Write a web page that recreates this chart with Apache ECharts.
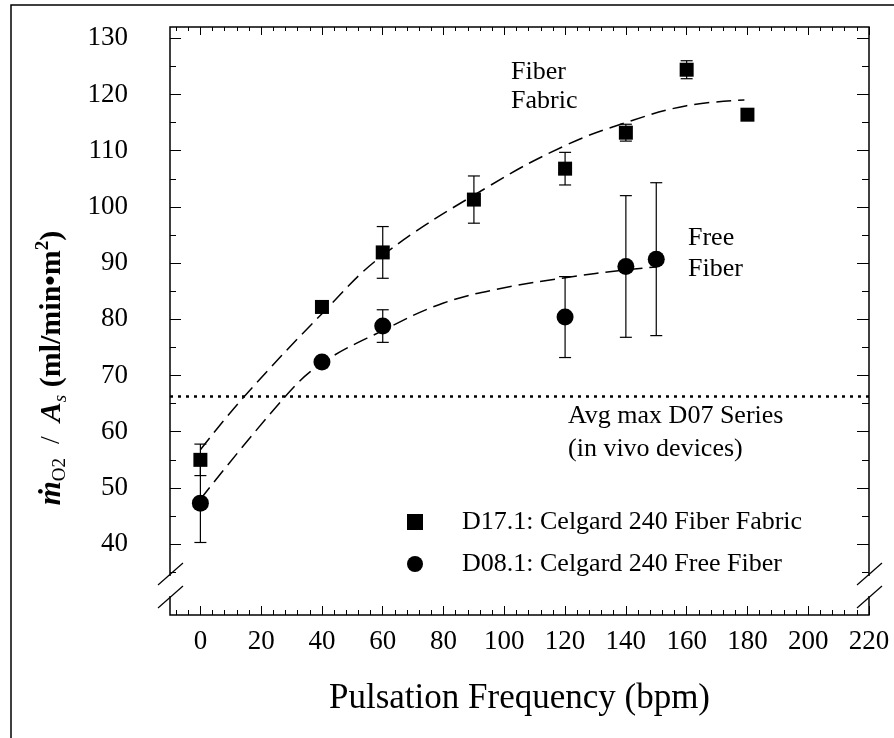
<!DOCTYPE html>
<html>
<head>
<meta charset="utf-8">
<title>Pulsation frequency vs O2 transfer</title>
<script src="https://cdn.jsdelivr.net/npm/echarts@6.0.0/dist/echarts.min.js"></script>
<style>
  html, body { margin: 0; padding: 0; background: #fff; }
  #chart { width: 894px; height: 738px; }
</style>
</head>
<body>
<div id="chart"></div>
<script>
// D17.1 fiber fabric (squares)
const freqFabric = [0, 40, 60, 90, 120, 140, 160, 180];
const o2Fabric = [55.0, 82.2, 91.9, 101.3, 106.8, 113.2, 124.4, 116.4];
const errFabric = [2.8, 1.0, 4.6, 4.2, 2.9, 1.5, 1.6, 1.0];

// D08.1 free fiber (circles)
const freqFree = [0, 40, 60, 120, 140, 150];
const o2Free = [47.3, 72.4, 78.8, 80.4, 89.4, 90.7];
const errFree = [7.0, 1.0, 2.9, 7.2, 12.6, 13.6];

// dashed trend curves
const fitFabricX = [0, 14, 40, 60, 95, 120, 140, 160, 179];
const fitFabricY = [56.8, 66.0, 81.0, 91.4, 103.7, 110.9, 115.0, 118.0, 119.0];
const fitFreeX = [0, 28, 40, 60, 80, 100, 120, 140, 150];
const fitFreeY = [48.0, 66.3, 72.2, 78.0, 82.9, 85.6, 87.4, 88.8, 89.3];

// average max of the D07 series (dotted line)
const avgMaxD07 = 66.3;

// tick values
const xMajor = [0, 20, 40, 60, 80, 100, 120, 140, 160, 180, 200, 220];
const xMinor = [-8, -4, 4, 8, 12, 16, 24, 28, 32, 36, 44, 48, 52, 56, 64, 68, 72, 76, 84, 88, 92, 96,
  104, 108, 112, 116, 124, 128, 132, 136, 144, 148, 152, 156, 164, 168, 172, 176, 184, 188, 192, 196,
  204, 208, 212, 216];
const yMajor = [40, 50, 60, 70, 80, 90, 100, 110, 120, 130];
const yMinor = [35, 45, 55, 65, 75, 85, 95, 105, 115, 125];

const nameFabric = 'D17.1: Celgard 240 Fiber Fabric';
const nameFree = 'D08.1: Celgard 240 Free Fiber';

const FONT = 'Liberation Serif, DejaVu Serif, serif';
const INK = '#000';

const zip = (xs, ys) => xs.map((x, i) => [x, ys[i]]);
const errRows = (xs, ys, es) => xs.map((x, i) => [x, ys[i] - es[i], ys[i] + es[i]]);

function errorBar(params, api) {
  const x = api.value(0);
  const lo = api.coord([x, api.value(1)]);
  const hi = api.coord([x, api.value(2)]);
  const w = 6;
  const st = { stroke: INK, lineWidth: 1.2 };
  return {
    type: 'group',
    children: [
      { type: 'line', shape: { x1: lo[0], y1: lo[1], x2: hi[0], y2: hi[1] }, style: st },
      { type: 'line', shape: { x1: lo[0] - w, y1: lo[1], x2: lo[0] + w, y2: lo[1] }, style: st },
      { type: 'line', shape: { x1: hi[0] - w, y1: hi[1], x2: hi[0] + w, y2: hi[1] }, style: st }
    ]
  };
}

function xAxisOf(pos, ticks, len, labels) {
  return {
    type: 'value', position: pos, min: -10, max: 220,
    axisLine: { show: false, onZero: false },
    axisTick: { inside: true, length: len, customValues: ticks, lineStyle: { color: INK, width: 1 } },
    axisLabel: labels
      ? { customValues: ticks, fontSize: 27, margin: 13, color: INK, fontFamily: FONT }
      : { show: false },
    splitLine: { show: false }
  };
}

function yAxisOf(pos, ticks, len, labels) {
  return {
    type: 'value', position: pos, min: 27.4, max: 132,
    axisLine: { show: false, onZero: false },
    axisTick: { inside: true, length: len, customValues: ticks, lineStyle: { color: INK, width: 1 } },
    axisLabel: labels
      ? { customValues: ticks, fontSize: 27, margin: 42, color: INK, fontFamily: FONT }
      : { show: false },
    splitLine: { show: false }
  };
}

const xAxes = [
  xAxisOf('bottom', xMajor, 9, true),
  xAxisOf('bottom', xMinor, 5, false),
  xAxisOf('top', xMajor, 8, false),
  xAxisOf('top', xMinor, 4, false)
];
xAxes[0].name = 'Pulsation Frequency (bpm)';
xAxes[0].nameLocation = 'middle';
xAxes[0].nameGap = 66;
xAxes[0].nameTextStyle = { fontSize: 35, color: INK, fontFamily: FONT };

const yAxes = [
  yAxisOf('left', yMajor, 11, true),
  yAxisOf('left', yMinor, 6, false),
  yAxisOf('right', yMajor, 12, false),
  yAxisOf('right', yMinor, 7, false)
];
yAxes[0].name = '{m|ṁ}{sub|O2}{sl|  /  }{a|A}{subi|s}{b| (ml/min•m}{sup|2}{b|)}';
yAxes[0].nameLocation = 'middle';
yAxes[0].nameGap = 100;
yAxes[0].nameTextStyle = {
  color: INK, fontFamily: FONT, padding: [0, 94, 0, 0],
  rich: {
    m: { fontSize: 31, fontWeight: 'bold', fontStyle: 'italic', lineHeight: 36, fontFamily: FONT, color: INK },
    sub: { fontSize: 19, lineHeight: 22, verticalAlign: 'bottom', fontFamily: FONT, color: INK },
    subi: { fontSize: 19, lineHeight: 22, verticalAlign: 'bottom', fontStyle: 'italic', fontFamily: FONT, color: INK },
    sl: { fontSize: 28, lineHeight: 36, fontFamily: FONT, color: INK },
    a: { fontSize: 30, fontWeight: 'bold', fontStyle: 'italic', lineHeight: 36, fontFamily: FONT, color: INK },
    b: { fontSize: 30, fontWeight: 'bold', lineHeight: 36, fontFamily: FONT, color: INK },
    sup: { fontSize: 19, fontWeight: 'bold', lineHeight: 22, verticalAlign: 'top', fontFamily: FONT, color: INK }
  }
};

const dashed = { color: INK, width: 1.5, type: [15, 7] };

const option = {
  backgroundColor: '#fff',
  animation: false,
  grid: { left: 170, right: 25, top: 27, bottom: 123, show: true, borderColor: INK, borderWidth: 1.5 },
  legend: {
    orient: 'vertical', left: 402, top: 504, itemGap: 16,
    itemWidth: 16, itemHeight: 16,
    textStyle: { fontSize: 26, color: INK, fontFamily: FONT, padding: [0, 0, 0, 34] },
    data: [
      { name: nameFabric, icon: 'rect', itemStyle: { color: INK, opacity: 1 } },
      { name: nameFree, icon: 'circle', itemStyle: { color: INK, opacity: 1 } }
    ]
  },
  xAxis: xAxes,
  yAxis: yAxes,
  series: [
    {
      name: 'fit fabric', type: 'line', smooth: 0.4, symbol: 'none',
      data: zip(fitFabricX, fitFabricY), lineStyle: dashed, z: 2
    },
    {
      name: 'fit free', type: 'line', smooth: 0.4, symbol: 'none',
      data: zip(fitFreeX, fitFreeY), lineStyle: dashed, z: 2,
      markLine: {
        silent: true, symbol: 'none', label: { show: false },
        lineStyle: { color: INK, width: 2.5, type: [3, 5] },
        data: [{ yAxis: avgMaxD07 }]
      }
    },
    {
      name: 'err fabric', type: 'custom', renderItem: errorBar,
      encode: { x: 0, y: [1, 2] }, data: errRows(freqFabric, o2Fabric, errFabric), z: 3
    },
    {
      name: 'err free', type: 'custom', renderItem: errorBar,
      encode: { x: 0, y: [1, 2] }, data: errRows(freqFree, o2Free, errFree), z: 3
    },
    {
      name: nameFabric, type: 'scatter', symbol: 'rect', symbolSize: 14,
      itemStyle: { color: INK, opacity: 1 }, data: zip(freqFabric, o2Fabric), z: 4
    },
    {
      name: nameFree, type: 'scatter', symbol: 'circle', symbolSize: 17,
      itemStyle: { color: INK, opacity: 1 }, data: zip(freqFree, o2Free), z: 4
    }
  ],
  graphic: [
    // outer frame of the figure
    { type: 'rect', z: 0, shape: { x: 11, y: 5, width: 1000, height: 1000 },
      style: { fill: null, stroke: INK, lineWidth: 1.5 } },
    // axis break marks
    { type: 'rect', z: 100, shape: { x: 166, y: 576, width: 8, height: 20 }, style: { fill: '#fff' } },
    { type: 'line', z: 101, shape: { x1: 158, y1: 585, x2: 183, y2: 563 }, style: { stroke: INK, lineWidth: 1.2 } },
    { type: 'line', z: 101, shape: { x1: 158, y1: 608, x2: 183, y2: 586 }, style: { stroke: INK, lineWidth: 1.2 } },
    { type: 'rect', z: 100, shape: { x: 865, y: 576, width: 8, height: 20 }, style: { fill: '#fff' } },
    { type: 'line', z: 101, shape: { x1: 857, y1: 585, x2: 882, y2: 563 }, style: { stroke: INK, lineWidth: 1.2 } },
    { type: 'line', z: 101, shape: { x1: 857, y1: 608, x2: 882, y2: 586 }, style: { stroke: INK, lineWidth: 1.2 } },
    // annotations
    { type: 'text', z: 100, x: 511, y: 87,
      style: { text: 'Fiber\nFabric', fontSize: 26, lineHeight: 29, fontFamily: FONT, fill: INK, verticalAlign: 'middle' } },
    { type: 'text', z: 100, x: 688, y: 254,
      style: { text: 'Free\nFiber', fontSize: 26, lineHeight: 31, fontFamily: FONT, fill: INK, verticalAlign: 'middle' } },
    { type: 'text', z: 100, x: 568, y: 433,
      style: { text: 'Avg max D07 Series\n(in vivo devices)', fontSize: 26, lineHeight: 33, fontFamily: FONT, fill: INK, verticalAlign: 'middle' } }
  ]
};

const chart = echarts.init(document.getElementById('chart'), null, { renderer: 'canvas' });
chart.setOption(option);
</script>
</body>
</html>
